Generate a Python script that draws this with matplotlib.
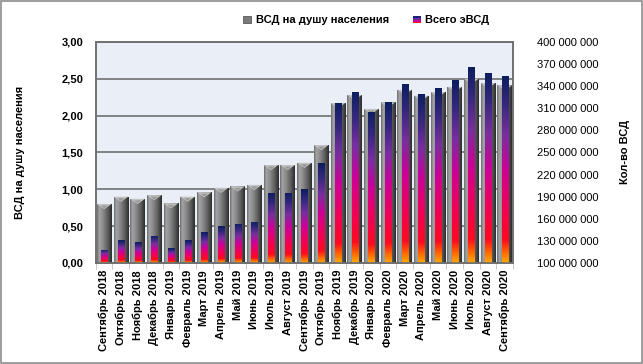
import numpy as np
import matplotlib
matplotlib.use("Agg")
import matplotlib.pyplot as plt
from matplotlib.colors import LinearSegmentedColormap
from matplotlib.patches import Rectangle, Polygon, Patch
from matplotlib.legend_handler import HandlerBase

plt.rcParams["font.family"] = ["Liberation Sans", "DejaVu Sans"]

months = ["Сентябрь 2018", "Октябрь 2018", "Ноябрь 2018", "Декабрь 2018",
          "Январь 2019", "Февраль 2019", "Март 2019", "Апрель 2019", "Май 2019",
          "Июнь 2019", "Июль 2019", "Август 2019", "Сентябрь 2019", "Октябрь 2019",
          "Ноябрь 2019", "Декабрь 2019", "Январь 2020", "Февраль 2020", "Март 2020",
          "Апрель 2020", "Май 2020", "Июнь 2020", "Июль 2020", "Август 2020",
          "Сентябрь 2020"]
# ВСД на душу населения (left axis)
per_capita = [0.80, 0.90, 0.87, 0.92, 0.81, 0.90, 0.96, 1.02, 1.04, 1.06, 1.33, 1.33,
              1.36, 1.60, 2.17, 2.28, 2.09, 2.18, 2.35, 2.27, 2.32, 2.39, 2.50, 2.44, 2.41]
# Всего эВСД (right axis)
total_evsd = [118e6, 131e6, 128e6, 137e6, 120e6, 131e6, 142e6, 150e6, 153e6, 156e6,
              195e6, 195e6, 200e6, 236e6, 317e6, 332e6, 305e6, 318e6, 343e6, 329e6,
              337e6, 348e6, 366e6, 358e6, 354e6]

GRID = "#707070"
gray_cmap = LinearSegmentedColormap.from_list(
    "cyl", [(0, "#6e6e6e"), (0.15, "#a4a4a4"), (0.4, "#8a8a8a"), (0.75, "#5a5a5a"), (1, "#2c2c2c")])
ev_cmap = LinearSegmentedColormap.from_list(
    "ev", [(0, "#ffa800"), (0.05, "#ff6a00"), (0.12, "#ff0a20"), (0.3, "#f0005a"),
           (0.5, "#cc0099"), (0.68, "#7a2ea0"), (0.85, "#35287e"), (1, "#0c1e5e")])

fig = plt.figure(figsize=(6.43, 3.64), dpi=100)
ax = fig.add_axes([0.149, 0.2775, 0.649, 0.6075])
ax2 = ax.twinx()

x = np.arange(len(months))
ax.set_facecolor("#e9eef7")
ax.set_axisbelow(True)
ax.yaxis.grid(True, color=GRID, lw=1.2)

hgrad = np.linspace(0, 1, 64).reshape(1, -1)
vgrad = np.linspace(0, 1, 128).reshape(-1, 1)

gbars = ax.bar(x, per_capita, width=0.88, color="none", edgecolor="none")
for b, v in zip(gbars, per_capita):
    x0, w = b.get_x(), b.get_width()
    im = ax.imshow(hgrad, extent=[x0, x0 + w, 0, v], aspect="auto", cmap=gray_cmap,
                   origin="lower", zorder=2)
    im.set_clip_path(b)
    ax.add_patch(Polygon([[x0, v], [x0 + w, v], [x0 + w / 2, v - 0.07]], closed=True,
                         facecolor="#c4c4c4", edgecolor="none", zorder=3))
    ax.add_patch(Polygon([[x0 + w * 0.25, v - 0.02], [x0 + w * 0.75, v - 0.02], [x0 + w / 2, v - 0.06]],
                         closed=True, facecolor="#9a9a9a", edgecolor="none", zorder=3))

ebars = ax2.bar(x, total_evsd, width=0.36, bottom=0, color="none", edgecolor="none")
for b, v in zip(ebars, total_evsd):
    x0, w = b.get_x(), b.get_width()
    im = ax2.imshow(vgrad, extent=[x0, x0 + w, 100e6, v], aspect="auto", cmap=ev_cmap,
                    origin="lower", zorder=2)
    im.set_clip_path(b)

ax.set_xlim(-0.5, len(months) - 0.5)
ax.set_ylim(0, 3)
ax2.set_ylim(100e6, 400e6)
ax2.set_xlim(-0.5, len(months) - 0.5)

ax.set_yticks(np.arange(0, 3.01, 0.5))
ax.set_yticklabels([f"{v:.2f}".replace(".", ",") for v in np.arange(0, 3.01, 0.5)],
                   fontsize=8, fontweight="bold")
ax.tick_params(axis="y", length=0, pad=9)
r_ticks = np.arange(100e6, 400e6 + 1, 30e6)
ax2.set_yticks(r_ticks)
ax2.set_yticklabels([f"{int(v):,}".replace(",", " ") for v in r_ticks], fontsize=8)
ax2.tick_params(axis="y", length=0, pad=17)

ax.set_xticks(x)
ax.set_xticklabels(months, rotation=90, fontsize=8, fontweight="bold")
ax.set_xticks(np.arange(-0.5, len(months)), minor=True)
ax.tick_params(axis="x", which="major", length=0, pad=5)
ax.tick_params(axis="x", which="minor", length=4, color="#c0c0c0")

for a in (ax, ax2):
    for s in a.spines.values():
        s.set_color(GRID)
        s.set_linewidth(1.2)

fig.text(0.031, 0.582, "ВСД на душу населения", rotation=90, ha="center", va="center",
         fontsize=8, fontweight="bold")
fig.text(0.972, 0.582, "Кол-во ВСД", rotation=90, ha="center", va="center",
         fontsize=8, fontweight="bold")


class GradHandler(HandlerBase):
    def create_artists(self, legend, orig_handle, xd, yd, w, h, fontsize, trans):
        cols = ["#ff1a1a", "#cc0099", "#6a2aa0", "#1a237a"]
        hh = h / len(cols)
        return [Rectangle((-xd, -yd + i * hh), w, hh, facecolor=c, edgecolor="none",
                          transform=trans) for i, c in enumerate(cols)]


h1 = Patch(facecolor="#7a7a7a", edgecolor="#444444", lw=0.5)
h2 = Patch(facecolor="#1a237a")
fig.legend([h1, h2], ["ВСД на душу населения", "Всего эВСД"],
           handler_map={h2: GradHandler()}, loc="upper center", bbox_to_anchor=(0.57, 0.985),
           ncol=2, frameon=False, handlelength=0.7, handleheight=0.7, handletextpad=0.4,
           columnspacing=2.2, prop={"size": 8, "weight": "bold"})

fig.add_artist(Rectangle((0.001, 0.002), 0.997, 0.995, transform=fig.transFigure,
                         fill=False, edgecolor="#8c8c8c", lw=1.2))

fig.savefig("out.png", dpi=100)
